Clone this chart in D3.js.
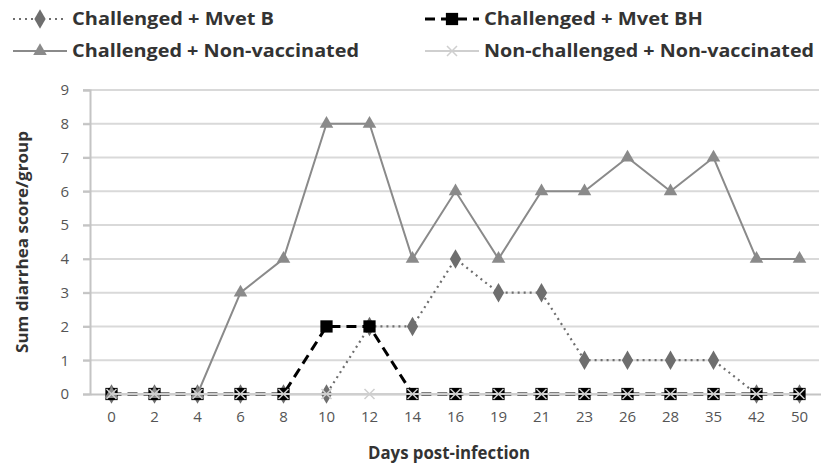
<!DOCTYPE html>
<html>
<head>
<meta charset="utf-8">
<script src="https://cdn.jsdelivr.net/npm/d3@7"></script>
<style>
  html, body { margin: 0; padding: 0; background: #fff; }
  svg { display: block; font-family: "Open Sans", Lato, sans-serif; }
</style>
</head>
<body>
<svg id="chart" width="821" height="464"></svg>
<script>
// Days post-infection (categorical axis)
const days = ["0", "2", "4", "6", "8", "10", "12", "14", "16", "19", "21", "23", "26", "28", "35", "42", "50"];

// Sum diarrhea score per group
const mvetB         = [0, 0, 0, 0, 0, 0, 2, 2, 4, 3, 3, 1, 1, 1, 1, 0, 0];
const mvetBH        = [0, 0, 0, 0, 0, 2, 2, 0, 0, 0, 0, 0, 0, 0, 0, 0, 0];
const nonVaccinated = [0, 0, 0, 3, 4, 8, 8, 4, 6, 4, 6, 6, 7, 6, 7, 4, 4];
const nonChallenged = [0, 0, 0, 0, 0, 0, 0, 0, 0, 0, 0, 0, 0, 0, 0, 0, 0];

const yTicks = [0, 1, 2, 3, 4, 5, 6, 7, 8, 9];

const seriesNames = [
  "Challenged + Mvet B",
  "Challenged + Mvet BH",
  "Challenged + Non-vaccinated",
  "Non-challenged + Non-vaccinated"
];

const series = [
  { name: seriesNames[0], values: mvetB, color: "#6e6e6e", width: 2.2, dash: "2,4", symbol: d3.symbolDiamond, size: 110, fill: "#6e6e6e" },
  { name: seriesNames[1], values: mvetBH, color: "#000000", width: 3, dash: "10,6", symbol: d3.symbolSquare, size: 150, fill: "#000000" },
  { name: seriesNames[2], values: nonVaccinated, color: "#8a8a8a", width: 2, dash: null, symbol: d3.symbolTriangle, size: 80, fill: "#8a8a8a" },
  { name: seriesNames[3], values: nonChallenged, color: "#cfcfcf", width: 2, dash: null, symbol: d3.symbolCross, size: 0, fill: "none" }
];

const svg = d3.select("#chart");
const margin = { left: 90, right: 0 };
const W = 821;

const x = d3.scaleBand().domain(days).range([margin.left, W - margin.right]);
const y = d3.scaleLinear().domain([0, 9]).range([394, 90]);
const cx = d => x(d) + x.bandwidth() / 2;

// Horizontal gridlines
svg.append("g")
  .selectAll("line")
  .data(yTicks.filter(t => t > 0))
  .join("line")
  .attr("x1", margin.left - 7)
  .attr("x2", W - 2)
  .attr("y1", d => y(d))
  .attr("y2", d => y(d))
  .attr("stroke", "#d9d9d9")
  .attr("stroke-width", 2);

// Y axis
const yAxis = svg.append("g")
  .attr("transform", `translate(${margin.left},0)`)
  .call(d3.axisLeft(y).tickValues(yTicks).tickSize(7).tickPadding(14));
yAxis.select(".domain").attr("stroke", "#c4c4c4").attr("stroke-width", 2);
yAxis.selectAll(".tick line").attr("stroke", "#c4c4c4").attr("stroke-width", 2);
yAxis.selectAll(".tick text").attr("font-size", 15).attr("fill", "#555").attr("font-family", "'Open Sans', sans-serif");

// X axis
const xAxis = svg.append("g")
  .attr("transform", `translate(0,${y(0)})`)
  .call(d3.axisBottom(x).tickSize(0).tickPadding(17));
xAxis.select(".domain").attr("stroke", "#c4c4c4").attr("stroke-width", 2);
xAxis.selectAll(".tick text").attr("font-size", 15).attr("fill", "#555").attr("font-family", "'Open Sans', sans-serif");

// Axis titles
svg.append("text")
  .attr("x", 449)
  .attr("y", 459)
  .attr("text-anchor", "middle")
  .attr("font-size", 17)
  .attr("font-weight", "bold")
  .attr("fill", "#333")
  .attr("textLength", 162)
  .attr("lengthAdjust", "spacingAndGlyphs")
  .text("Days post-infection");

svg.append("text")
  .attr("transform", `translate(28,${(y(0) + y(9)) / 2}) rotate(-90)`)
  .attr("text-anchor", "middle")
  .attr("font-size", 16)
  .attr("font-weight", "bold")
  .attr("fill", "#333")
  .attr("textLength", 222)
  .attr("lengthAdjust", "spacingAndGlyphs")
  .text("Sum diarrhea score/group");

// Lines and markers
const line = d3.line().x((d, i) => cx(days[i])).y(d => y(d));

function drawMarker(g, s, px, py) {
  if (s.symbol === d3.symbolCross) {
    const r = 5;
    g.append("path")
      .attr("d", `M${px - r},${py - r}L${px + r},${py + r}M${px - r},${py + r}L${px + r},${py - r}`)
      .attr("stroke", s.color)
      .attr("stroke-width", 1.5)
      .attr("fill", "none");
  } else {
    g.append("path")
      .attr("d", d3.symbol().type(s.symbol).size(s.size)())
      .attr("transform", `translate(${px},${py})`)
      .attr("fill", s.fill);
  }
}

series.forEach(s => {
  const g = svg.append("g");
  g.append("path")
    .datum(s.values)
    .attr("d", line)
    .attr("fill", "none")
    .attr("stroke", s.color)
    .attr("stroke-width", s.width)
    .attr("stroke-dasharray", s.dash);
  s.values.forEach((v, i) => drawMarker(g, s, cx(days[i]), y(v)));
});

// Legend
const legendPos = [
  { x: 13, y: 19, len: 202 },
  { x: 425, y: 19, len: 219 },
  { x: 13, y: 51, len: 287 },
  { x: 425, y: 51, len: 330 }
];
series.forEach((s, i) => {
  const p = legendPos[i];
  const g = svg.append("g");
  g.append("line")
    .attr("x1", p.x).attr("x2", p.x + 54)
    .attr("y1", p.y).attr("y2", p.y)
    .attr("stroke", s.color)
    .attr("stroke-width", s.width)
    .attr("stroke-dasharray", s.dash);
  drawMarker(g, s, p.x + 27, p.y);
  g.append("text")
    .attr("x", p.x + 59)
    .attr("y", p.y)
    .attr("dy", "0.36em")
    .attr("font-size", 18)
    .attr("font-weight", "bold")
    .attr("fill", "#333")
    .attr("textLength", p.len)
    .attr("lengthAdjust", "spacingAndGlyphs")
    .text(s.name);
});
</script>
</body>
</html>
